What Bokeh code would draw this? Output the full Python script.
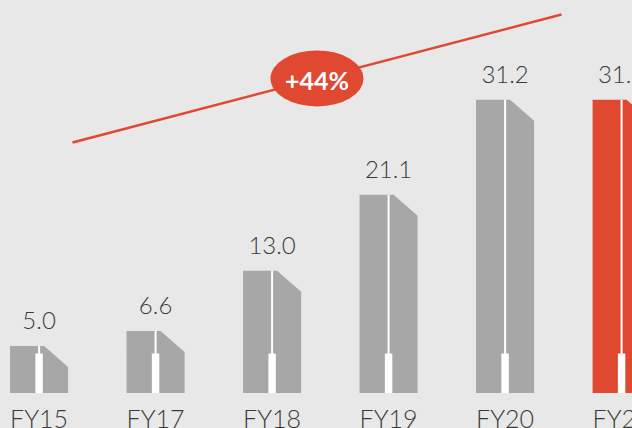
from bokeh.plotting import figure
from bokeh.models import Range1d, GlobalInlineStyleSheet
from bokeh.core.properties import value
from bokeh.embed import file_html
from bokeh.resources import INLINE

# ---- data ----
categories = ["FY15", "FY17", "FY18", "FY19", "FY20", "FY21"]
revenue = [5.0, 6.6, 13.0, 21.1, 31.2, 31.2]
growth_label = "+44%"
highlight = "FY21"
# decorative trend arrow endpoints (category index, value)
trend_start = (0.287, 26.65)
trend_end = (4.484, 40.27)

# ---- style ----
BG = "#e8e8e8"
GRAY = "#a7a7a7"
RED = "#e04832"
TXT = "#3a3a3a"
FONT = "'Lato Light', Lato"

p = figure(width=632, height=428, output_backend="svg", toolbar_location=None,
           x_range=Range1d(-0.3313, 5.0936), y_range=Range1d(-3.777, 41.755),
           x_axis_location=None, y_axis_location=None, min_border=0,
           min_border_left=0, min_border_right=0, min_border_top=0,
           min_border_bottom=0)
p.background_fill_color = BG
p.border_fill_color = BG
p.outline_line_color = None
p.grid.visible = False
p.stylesheets = [GlobalInlineStyleSheet(css=f"html, body {{ background: {BG}; }}")]

idx = list(range(len(categories)))
hw = 0.249          # half bar width (data units)
cut_dx = 0.206      # corner clip width
cut_dy = 2.234      # corner clip height
xs, ys = [], []
for i, v in zip(idx, revenue):
    xs.append([i - hw, i - hw, i + hw - cut_dx, i + hw, i + hw])
    ys.append([0, v, v, v - cut_dy, 0])
colors = [RED if c == highlight else GRAY for c in categories]
p.patches(xs, ys, fill_color=colors, line_color=None)

# white spine and tab
p.segment(x0=idx, y0=[0] * len(idx), x1=idx, y1=revenue, line_color="white", line_width=2)
p.vbar(x=idx, width=0.064, bottom=0, top=4.2, fill_color="white", line_color=None)

# value labels
p.text(x=idx, y=revenue, text=[f"{v:.1f}" for v in revenue], text_align="center",
       text_baseline="alphabetic", y_offset=-25, text_font=value(FONT),
       text_font_size="24px", text_color=TXT)

# category labels
p.text(x=idx, y=[0] * len(idx), text=categories, text_align="center",
       text_baseline="alphabetic", y_offset=25, text_font=value(FONT),
       text_font_size="25px", text_color=TXT)

# trend line and bubble
p.line([trend_start[0], trend_end[0]], [trend_start[1], trend_end[1]],
       line_color=RED, line_width=2.5)
mx = (trend_start[0] + trend_end[0]) / 2
my = (trend_start[1] + trend_end[1]) / 2
p.ellipse(x=[mx], y=[my], width=93, height=56, width_units="screen",
          height_units="screen", fill_color=RED, line_color=None)
p.text(x=[mx], y=[my], text=[growth_label], text_align="center", text_baseline="middle",
       y_offset=2, text_font=value("Lato"), text_font_style="bold", text_font_size="25px",
       text_color="white")

open("out.html", "w").write(file_html(p, INLINE))
